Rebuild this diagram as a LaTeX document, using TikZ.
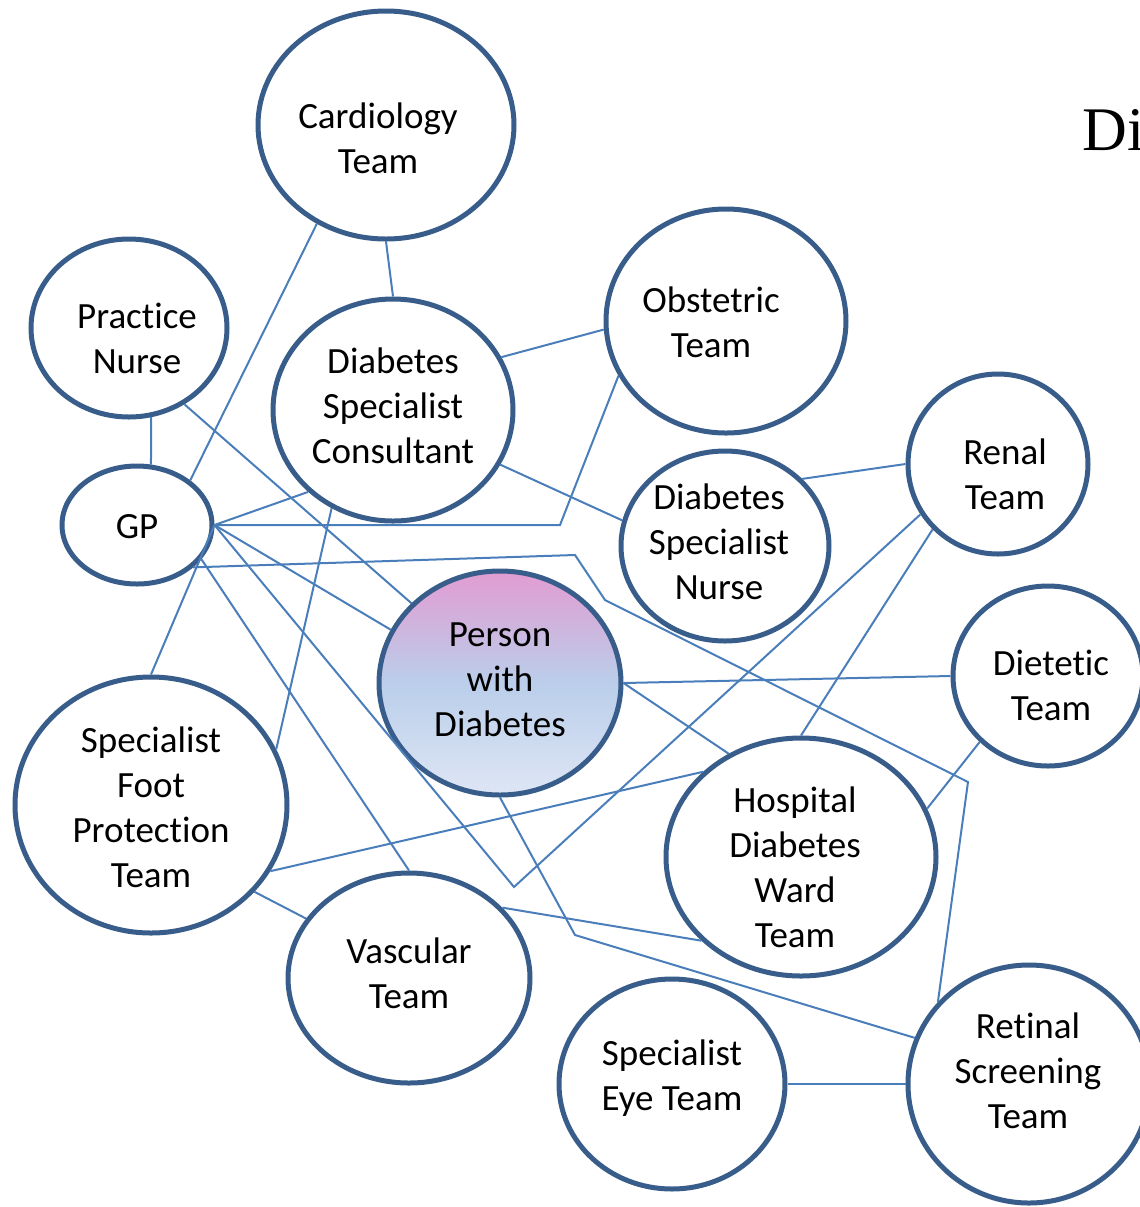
\documentclass[tikz,border=0pt]{standalone}
\usepackage{fontspec}
\setmainfont[Ligatures=NoCommon]{Carlito}
\newfontfamily\titlefont{Liberation Serif}
\definecolor{teamblue}{RGB}{56, 93, 138}
\definecolor{linkblue}{RGB}{74, 126, 187}
\definecolor{pwdtop}{RGB}{226, 156, 210}
\definecolor{pwdmid}{RGB}{186, 206, 234}
\definecolor{pwdlow}{RGB}{222, 230, 245}
\usepackage{tikz}
\usetikzlibrary{shapes, arrows.meta, positioning, calc}
\pgfdeclareverticalshading{pwdshade}{100bp}{color(0bp)=(pwdlow); color(25bp)=(pwdlow); color(50bp)=(pwdmid); color(75bp)=(pwdtop); color(100bp)=(pwdtop)}

\begin{document}
\begin{tikzpicture}[x=0.5pt, y=-0.5pt,
    team/.style={ellipse, draw=teamblue, line width=2.5pt, fill=white, inner sep=0pt},
    teamtext/.style={align=center, inner sep=0pt, font=\fontsize{18.5}{22.5}\selectfont},
    sz/.style 2 args={minimum width=#1pt, minimum height=#2pt},
    link/.style={draw=linkblue, line width=1pt}]
  \useasboundingbox (0,0) rectangle (1140,1207);
  \clip (0,0) rectangle (1140,1207);

  \node[anchor=base west, inner sep=0pt, font=\titlefont\fontsize{31}{36}\selectfont] (title) at (1082,150) {Di};

  \node[team, sz={128}{114}] (card) at (386,125) {};
  \node[team, sz={98}{89}] (pn) at (129,328) {};
  \node[team, sz={120}{111}] (dsc) at (393,410) {};
  \node[team, sz={120}{112}] (obs) at (726,321) {};
  \node[team, sz={75}{59}] (gp) at (137,525) {};
  \node[team, sz={90}{90}] (renal) at (998,464) {};
  \node[team, sz={104}{95}] (dsn) at (725,546) {};
  \node[team, sz={121}{112}, shading=pwdshade] (pwd) at (500,683) {};
  \node[team, sz={95}{90}] (diet) at (1048,676) {};
  \node[team, sz={136}{128}] (foot) at (151,805) {};
  \node[team, sz={135}{119}] (hosp) at (801,857) {};
  \node[team, sz={121}{105}] (vasc) at (409,978) {};
  \node[team, sz={113}{105}] (eye) at (672,1084) {};
  \node[team, sz={121}{119}] (ret) at (1029,1084) {};

  \node[teamtext] (cardtext) at ($(card)+(-8,13)$) {Cardiology\\Team};
  \node[teamtext] (pntext) at ($(pn)+(8,10)$) {Practice\\Nurse};
  \node[teamtext] (dsctext) at ($(dsc)+(0,-4)$) {Diabetes\\Specialist\\Consultant};
  \node[teamtext] (obstext) at ($(obs)+(-15,1)$) {Obstetric\\Team};
  \node[teamtext] (gptext) at ($(gp)+(0,2)$) {GP};
  \node[teamtext] (renaltext) at ($(renal)+(7,10)$) {Renal\\Team};
  \node[teamtext] (dsntext) at ($(dsn)+(-6,-4)$) {Diabetes\\Specialist\\Nurse};
  \node[teamtext] (pwdtext) at ($(pwd)+(0,-3)$) {Person\\with\\Diabetes};
  \node[teamtext] (diettext) at ($(diet)+(3,9)$) {Dietetic\\Team};
  \node[teamtext] (foottext) at ($(foot)+(0,2)$) {Specialist\\Foot\\Protection\\Team};
  \node[teamtext] (hosptext) at ($(hosp)+(-6,10)$) {Hospital\\Diabetes\\Ward\\Team};
  \node[teamtext] (vasctext) at ($(vasc)+(0,-5)$) {Vascular\\Team};
  \node[teamtext] (eyetext) at ($(eye)+(0,-6)$) {Specialist\\Eye Team};
  \node[teamtext] (rettext) at ($(ret)+(-1,-13)$) {Retinal\\Screening\\Team};

  \coordinate (bObs) at (560,525);
  \coordinate (bRen) at (514,887);
  \coordinate (bRet1) at (575,555);
  \coordinate (bRet2) at (605,600);
  \coordinate (bRet3) at (968,782);
  \coordinate (bPwd) at (575,935);

  \draw[link] (card.south) -- (dsc.north);
  \draw[link] (card.-125) -- (gp.40);
  \draw[link] (pn.-76) -- (gp.77);
  \draw[link] (pn.-54) -- (pwd.138);
  \draw[link] (dsc.26) -- (obs.-176);
  \draw[link] (dsc.-27) -- (dsn.166);
  \draw[link] (gp.east) -- (dsc.-136);
  \draw[link] (gp.east) -- (bObs) -- (obs.-153);
  \draw[link] (gp.east) -- (pwd.154);
  \draw[link] (gp.-37) -- (bRet1) -- (bRet2) -- (bRet3) -- (ret.138);
  \draw[link] (gp.east) -- (bRen) -- (renal.-147);
  \draw[link] (gp.-28) -- (vasc.north);
  \draw[link] (gp.east) -- (foot.north);
  \draw[link] (dsc.-122) -- (foot.24);
  \draw[link] (dsn.41) -- (renal.west);
  \draw[link] (renal.-135) -- (hosp.north);
  \draw[link] (pwd.east) -- (diet.west);
  \draw[link] (pwd.east) -- (hosp.125);
  \draw[link] (diet.-136) -- (hosp.21);
  \draw[link] (foot.-29) -- (hosp.139);
  \draw[link] (foot.-40) -- (vasc.150);
  \draw[link] (vasc.37) -- (hosp.-140);
  \draw[link] (pwd.south) -- (bPwd) -- (ret.158);
  \draw[link] (eye.east) -- (ret.west);
\end{tikzpicture}
\end{document}
